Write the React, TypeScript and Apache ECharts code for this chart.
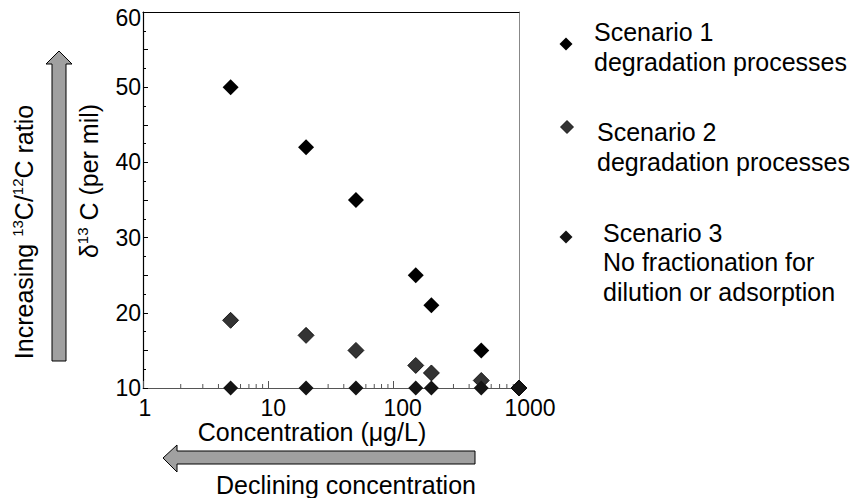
import React, { useEffect, useRef } from "react";
import * as echarts from "echarts";

// ---- data ----
const concentrations = [5, 20, 50, 150, 200, 500, 1000];
const scenario1 = [50, 42, 35, 25, 21, 15, 10];
const scenario2 = [19, 17, 15, 13, 12, 11, 10];
const scenario3 = [10, 10, 10, 10, 10, 10, 10];
const xMinorTicks = [2, 3, 4, 5, 6, 7, 8, 9, 20, 30, 40, 50, 60, 70, 80, 90, 200, 300, 400, 500, 600, 700, 800, 900];
const legendLines1 = ["Scenario 1", "degradation processes"];
const legendLines2 = ["Scenario 2", "degradation processes"];
const legendLines3 = ["Scenario 3", "No fractionation for", "dilution or adsorption"];

const FONT = "Liberation Sans, Arial, sans-serif";
const S2_FILL = "#333333";

function diamond(cx: number, cy: number, r: number) {
  return [
    [cx, cy - r],
    [cx + r, cy],
    [cx, cy + r],
    [cx - r, cy],
  ];
}

export default function App() {
  const ref = useRef<HTMLDivElement>(null);

  useEffect(() => {
    if (!ref.current) return;
    const chart = echarts.init(ref.current, undefined, { renderer: "svg" });
    const pairs = (ys: number[]) => concentrations.map((x, i) => [x, ys[i]]);

    const option: any = {
      animation: false,
      backgroundColor: "#fff",
      textStyle: { fontFamily: FONT },
      grid: { left: 143, top: 12, width: 376, height: 376, outerBoundsMode: "none" },
      xAxis: [
        {
          type: "log",
          logBase: 10,
          min: 1,
          max: 1000,
          axisLine: { onZero: false, lineStyle: { color: "#555", width: 1 } },
          axisTick: { inside: true, length: 7, lineStyle: { color: "#555" } },
          splitLine: { show: false },
          axisLabel: {
            margin: 8,
            color: "#000",
            fontSize: 23,
            fontFamily: FONT,
            formatter: (v: number) => {
              const s = String(Math.round(v));
              return `{l${s.length}|${s}}`;
            },
            rich: {
              l1: { fontSize: 23, fontFamily: FONT, color: "#000", padding: [0, 0, 0, 4] },
              l2: { fontSize: 23, fontFamily: FONT, color: "#000", padding: [0, 0, 0, 10] },
              l3: { fontSize: 23, fontFamily: FONT, color: "#000", padding: [0, 0, 0, 18] },
              l4: { fontSize: 23, fontFamily: FONT, color: "#000", padding: [0, 0, 0, 22] },
            },
          },
        },
        {
          type: "log",
          logBase: 10,
          min: 1,
          max: 1000,
          position: "top",
          axisLine: { onZero: false, lineStyle: { color: "#000", width: 1 } },
          axisTick: { show: false },
          axisLabel: { show: false },
          splitLine: { show: false },
        },
      ],
      yAxis: [
        {
          type: "value",
          min: 10,
          max: 60,
          interval: 5,
          axisLine: { onZero: false, lineStyle: { color: "#000", width: 1.2 } },
          axisTick: { inside: true, length: 5, lineStyle: { color: "#000" } },
          minorTick: { show: true, splitNumber: 2, length: 3, lineStyle: { color: "#000" } },
          splitLine: { show: false },
          axisLabel: {
            margin: 2,
            color: "#000",
            fontSize: 23,
            fontFamily: FONT,
            formatter: (v: number) => {
              if (Math.round(v) % 10 !== 0) return "";
              return v === 60 ? `{t|${v}}` : `{n|${v}}`;
            },
            rich: {
              n: { fontSize: 23, fontFamily: FONT, color: "#000" },
              t: { fontSize: 23, fontFamily: FONT, color: "#000", padding: [12, 0, 0, 0] },
            },
          },
        },
        {
          type: "value",
          min: 10,
          max: 60,
          position: "right",
          axisLine: { onZero: false, lineStyle: { color: "#888", width: 1 } },
          axisTick: { show: false },
          axisLabel: { show: false },
          splitLine: { show: false },
        },
      ],
      series: [
        {
          type: "custom",
          name: "minor ticks",
          silent: true,
          z: 1,
          clip: false,
          data: xMinorTicks.map((v) => [v, 10]),
          renderItem: (_p: any, api: any) => {
            const pt = api.coord([api.value(0), api.value(1)]);
            return {
              type: "line",
              shape: { x1: pt[0], y1: pt[1], x2: pt[0], y2: pt[1] - 4 },
              style: { stroke: "#555", lineWidth: 1 },
            };
          },
        },
        {
          type: "scatter",
          name: "Scenario 2",
          symbol: "diamond",
          symbolSize: 16,
          clip: false,
          z: 3,
          itemStyle: { color: S2_FILL, borderColor: "#000", borderWidth: 0.8, opacity: 1 },
          data: pairs(scenario2),
        },
        {
          type: "scatter",
          name: "Scenario 1",
          symbol: "diamond",
          symbolSize: 16,
          clip: false,
          z: 4,
          itemStyle: { color: "#000", opacity: 1 },
          data: pairs(scenario1),
        },
        {
          type: "scatter",
          name: "Scenario 3",
          symbol: "diamond",
          symbolSize: 15,
          clip: false,
          z: 5,
          itemStyle: { color: "#141414", opacity: 1 },
          data: pairs(scenario3),
        },
      ],
      graphic: [
        // vertical arrow
        {
          type: "polygon",
          shape: {
            points: [
              [52, 361], [52, 64], [46, 64], [59, 51], [72, 64], [66, 64], [66, 361],
            ],
          },
          style: { fill: "#a0a0a0", stroke: "#000", lineWidth: 1 },
        },
        // horizontal arrow
        {
          type: "polygon",
          shape: {
            points: [
              [475, 451], [177, 451], [177, 445], [163, 458], [177, 472], [177, 464], [475, 464],
            ],
          },
          style: { fill: "#a0a0a0", stroke: "#000", lineWidth: 1 },
        },
        {
          type: "text",
          x: 24,
          y: 232,
          rotation: Math.PI / 2,
          style: {
            text: "{n|Increasing }{s|13}{n|C/}{s|12}{n|C ratio}",
            align: "center",
            verticalAlign: "middle",
            fill: "#000",
            rich: {
              n: { fontSize: 25, fontFamily: FONT, fill: "#000", lineHeight: 28 },
              s: { fontSize: 15, fontFamily: FONT, fill: "#000", verticalAlign: "top", lineHeight: 18 },
            },
          },
        },
        {
          type: "text",
          x: 89,
          y: 181,
          rotation: Math.PI / 2,
          style: {
            text: "{n|δ}{s|13}{n| C (per mil)}",
            align: "center",
            verticalAlign: "middle",
            fill: "#000",
            rich: {
              n: { fontSize: 25, fontFamily: FONT, fill: "#000", lineHeight: 28 },
              s: { fontSize: 15, fontFamily: FONT, fill: "#000", verticalAlign: "top", lineHeight: 18 },
            },
          },
        },
        {
          type: "text",
          x: 312,
          y: 432,
          style: {
            text: "Concentration (μg/L)",
            align: "center",
            verticalAlign: "middle",
            fill: "#000",
            font: `25px ${FONT}`,
          },
        },
        {
          type: "text",
          x: 346,
          y: 485,
          style: {
            text: "Declining concentration",
            align: "center",
            verticalAlign: "middle",
            fill: "#000",
            font: `25px ${FONT}`,
          },
        },
        // legend
        { type: "polygon", shape: { points: diamond(566, 44, 6.5) }, style: { fill: "#000" } },
        {
          type: "text",
          x: 594,
          y: 17,
          style: {
            text: legendLines1.join("\n"),
            align: "left",
            verticalAlign: "top",
            fill: "#000",
            font: `25px ${FONT}`,
            lineHeight: 30,
          },
        },
        { type: "polygon", shape: { points: diamond(567, 127, 6.5) }, style: { fill: S2_FILL, stroke: "#000", lineWidth: 0.8 } },
        {
          type: "text",
          x: 597,
          y: 117,
          style: {
            text: legendLines2.join("\n"),
            align: "left",
            verticalAlign: "top",
            fill: "#000",
            font: `25px ${FONT}`,
            lineHeight: 30,
          },
        },
        { type: "polygon", shape: { points: diamond(566, 237, 6.5) }, style: { fill: "#141414" } },
        {
          type: "text",
          x: 603,
          y: 218,
          style: {
            text: legendLines3.join("\n"),
            align: "left",
            verticalAlign: "top",
            fill: "#000",
            font: `25px ${FONT}`,
            lineHeight: 29.5,
          },
        },
      ],
    };

    chart.setOption(option);
    return () => chart.dispose();
  }, []);

  return (
    <div
      ref={ref}
      style={{ position: "fixed", left: 0, top: 0, width: 855, height: 498, background: "#fff" }}
    />
  );
}
